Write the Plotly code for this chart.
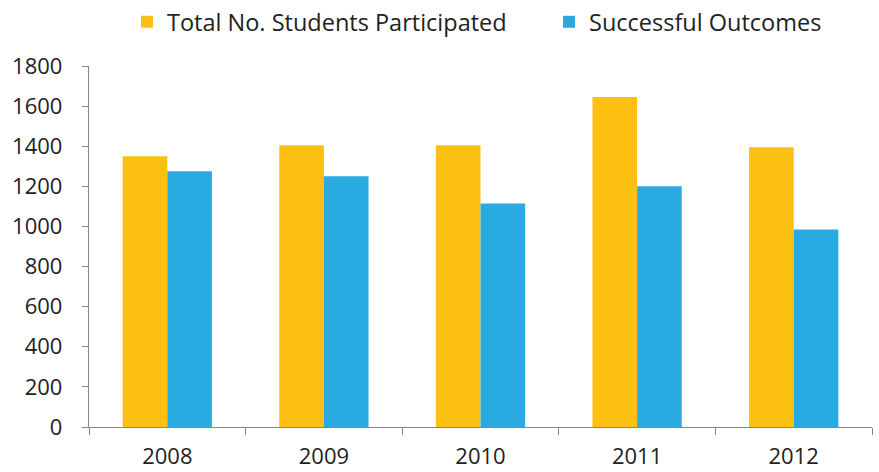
import plotly.graph_objects as go

years = ["2008", "2009", "2010", "2011", "2012"]
total_participated = [1350, 1405, 1405, 1645, 1395]
successful_outcomes = [1275, 1250, 1115, 1200, 985]
y_ticks = [0, 200, 400, 600, 800, 1000, 1200, 1400, 1600, 1800]

FONT = "Open Sans"
AXIS = "#868686"

fig = go.Figure()
fig.add_trace(go.Bar(x=years, y=total_participated, name="Total No. Students Participated",
                     marker=dict(color="#FBC012", line=dict(width=0)), legend="legend"))
fig.add_trace(go.Bar(x=years, y=successful_outcomes, name="Successful Outcomes",
                     marker=dict(color="#29ABE2", line=dict(width=0)), legend="legend2"))

leg_common = dict(orientation="h", yref="container", y=1.0, yanchor="top",
                  xanchor="left", font=dict(size=23.5, family=FONT, color="#222222"),
                  bgcolor="rgba(0,0,0,0)")
fig.update_layout(
    width=879, height=472,
    margin=dict(l=89, r=7, t=66, b=45, autoexpand=False),
    paper_bgcolor="white", plot_bgcolor="white",
    barmode="group", bargap=0.43, bargroupgap=0,
    font=dict(family=FONT, size=22, color="#222222"),
    legend=dict(x=0.0485, **leg_common),
    legend2=dict(x=0.5875, **leg_common),
    showlegend=True,
)
fig.update_xaxes(type="category", showline=True, linecolor=AXIS, linewidth=1.3,
                 ticks="outside", tickson="boundaries", ticklen=7, tickcolor=AXIS,
                 showgrid=False, tickfont=dict(size=22), automargin=False,
                 ticklabelstandoff=9)
fig.update_yaxes(range=[0, 1800], tickvals=y_ticks, showline=True, linecolor=AXIS, linewidth=1.3,
                 ticks="outside", ticklen=6, tickcolor=AXIS, showgrid=False, zeroline=False,
                 tickfont=dict(size=22), ticklabelstandoff=15, automargin=False)

fig.write_html("out.html", config={"displayModeBar": False},
               post_script="document.body.style.margin='0';")
